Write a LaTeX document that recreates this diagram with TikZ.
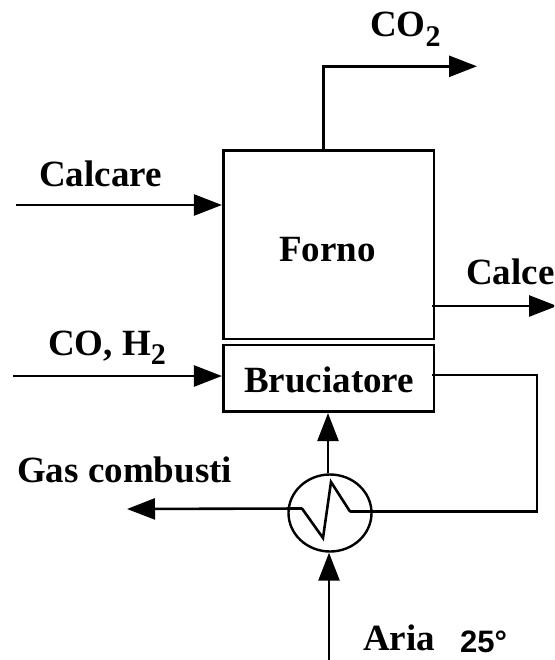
\documentclass[tikz,border=0pt]{standalone}
\usepackage{fontspec}
\setmainfont{Liberation Serif}
\newfontfamily\arialf{Liberation Sans}
\usetikzlibrary{arrows.meta,shapes.geometric}
\newcommand{\subtwo}[1]{\raisebox{#1}{\fontsize{30}{32}\selectfont 2}}
\tikzset{
 unit/.style={draw,line width=2.8pt,inner sep=0pt},
 flow/.style={line width=2.6pt},
 arr/.style={-{Triangle[length=28pt,width=21pt]},line width=2.6pt},
 lab/.style={font=\bfseries\fontsize{37}{40}\selectfont,inner sep=0pt,anchor=base west}
}
\begin{document}
\begin{tikzpicture}[x=1pt,y=-1pt]
\useasboundingbox (0,0) rectangle (554,660);
\node[unit,minimum width=210.7pt,minimum height=188.3pt] (forno) at (328.65,244.85) {};
\node[unit,minimum width=210.7pt,minimum height=66.7pt] (bruc) at (328.65,378.35) {};
\node[draw,ellipse,line width=2.4pt,minimum width=83pt,minimum height=77pt,inner sep=0pt] (hx) at (330,513) {};
\node[lab] (tforno) at (279,261) {Forno};
\node[lab] (tbruc) at (244,392) {Bruciatore};
\node[lab] (tcalcare) at (39,187) {Calcare};
\node[lab] (tco2) at (370,37) {CO\subtwo{-10pt}};
\node[lab] (tcalce) at (466,284) {Calce};
\node[lab] (tco) at (48,355) {CO, H\subtwo{-9pt}};
\node[lab] (tgas) at (17,482) {Gas combusti};
\node[lab] (taria) at (363,650) {Aria};
\node[lab,font=\arialf\bfseries\fontsize{31}{33}\selectfont] (t25) at (460,652) {25°};
\coordinate (a1) at (16,205);
\coordinate (a2) at (13,376);
\coordinate (co) at (477,66.3);
\coordinate (cal) at (557,306);
\coordinate (gas) at (127,509);
\coordinate (air) at (329,660);
\coordinate (z1) at (302,508.5);
\coordinate (z2) at (323,538);
\coordinate (z3) at (331,482);
\coordinate (z4) at (350,511.5);
\coordinate (rt) at (537,375);
\draw[arr] (a1) -- (forno.west|-a1);
\draw[arr] (a2) -- (bruc.west|-a2);
\draw[arr] (forno.north-|323.3,0) |- (co);
\begin{scope}
\clip (0,0) rectangle (554,660);
\draw[arr] ([xshift=-3pt]forno.east|-cal) -- (cal);
\end{scope}
\draw[arr] (z1) -- (gas);
\draw[arr] (air) -- (hx.south-|air);
\draw[arr] (hx.north-|328,0) -- (bruc.south-|328,0);
\draw[flow] ([xshift=-3pt]bruc.east|-rt) -- (rt) |- (z4);
\draw[flow,line cap=round] (z1) -- (z2) -- (z3) -- (z4);
\end{tikzpicture}
\end{document}
